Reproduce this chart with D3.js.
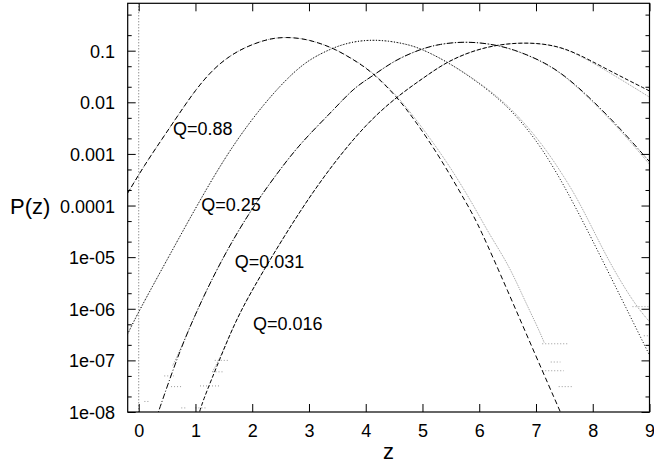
<!DOCTYPE html>
<html>
<head>
<meta charset="utf-8">
<script src="https://cdn.jsdelivr.net/npm/d3@7"></script>
<style>
  html, body { margin: 0; padding: 0; background: #fff; }
  svg { display: block; }
  text { font-family: Arial, "Liberation Sans", Helvetica, sans-serif; fill: #000; }
</style>
</head>
<body>
<svg id="chart" width="654" height="466"></svg>
<script>
// ---------- data ----------
const xTickValues = [0, 1, 2, 3, 4, 5, 6, 7, 8, 9];
const yTickValues = [1e-1, 1e-2, 1e-3, 1e-4, 1e-5, 1e-6, 1e-7, 1e-8];
const yTickLabels = ["0.1", "0.01", "0.001", "0.0001", "1e-05", "1e-06", "1e-07", "1e-08"];
const yMinorTicks = [5e-1, 2e-1, 5e-2, 2e-2, 5e-3, 2e-3, 5e-4, 2e-4, 5e-5, 2e-5, 5e-6, 2e-6, 5e-7, 2e-7, 5e-8, 2e-8];

const curveLabels = ["Q=0.88", "Q=0.25", "Q=0.031", "Q=0.016"];

// theory curves [z, P(z)]
const theoryQ088 = [[-0.2,1.70e-4],[0.1,6.03e-4],[0.4,1.86e-3],[0.7,5.75e-3],[1.0,1.74e-2],[1.3,4.27e-2],[1.6,7.94e-2],[1.9,0.120],[2.2,0.158],[2.4,0.176],[2.6,0.182],[2.85,0.174],[3.1,0.151],[3.43,0.112],[3.75,7.08e-2],[4.1,3.98e-2],[4.55,1.29e-2],[4.9,3.98e-3],[5.3,8.91e-4],[5.8,1.0e-4],[6.0,3.98e-5],[6.5,2.24e-6],[7.0,1.20e-7],[7.45,8.91e-9]];
const theoryQ025 = [[-0.2,3.16e-7],[0.0,8.91e-7],[0.5,8.91e-6],[1.0,8.91e-5],[1.5,7.94e-4],[2.0,4.90e-3],[2.5,2.19e-2],[2.9,5.62e-2],[3.2,8.71e-2],[3.5,0.123],[3.8,0.151],[4.1,0.162],[4.4,0.155],[4.7,0.135],[4.96,0.112],[5.43,6.17e-2],[5.93,2.69e-2],[6.52,8.32e-3],[7.11,1.38e-3],[7.69,1.0e-4],[8.28,5.01e-6],[9.0,1.26e-7]];
const theoryQ031 = [[0.3,7.08e-9],[0.69,1.26e-7],[1.0,7.94e-7],[1.3,3.98e-6],[1.65,2.09e-5],[2.03,1.0e-4],[2.45,4.37e-4],[2.85,1.62e-3],[3.43,7.08e-3],[3.8,1.95e-2],[4.11,3.16e-2],[4.5,6.46e-2],[4.96,0.107],[5.3,0.135],[5.75,0.151],[6.2,0.136],[6.6,0.107],[7.11,6.31e-2],[7.5,3.39e-2],[7.99,1.12e-2],[8.52,2.82e-3],[9.0,7.08e-4]];
const theoryQ016 = [[1.05,7.94e-9],[1.1,1.38e-8],[1.457,1.26e-7],[1.75,7.59e-7],[2.22,6.10e-6],[2.85,8.22e-5],[3.43,6.61e-4],[4.02,3.94e-3],[4.55,1.29e-2],[5.0,2.88e-2],[5.43,6.17e-2],[5.93,0.104],[6.4,0.135],[6.87,0.144],[7.3,0.129],[7.69,9.33e-2],[8.28,4.17e-2],[9.0,1.66e-2]];

// simulation data [z, P(z)]
const dataQ088 = [[-0.2,1.70e-4],[0.1,6.03e-4],[0.4,1.86e-3],[0.7,5.75e-3],[1.0,1.74e-2],[1.3,4.27e-2],[1.6,7.94e-2],[1.9,0.120],[2.2,0.158],[2.4,0.176],[2.6,0.182],[2.85,0.174],[3.1,0.151],[3.43,0.112],[3.75,7.20e-2],[4.1,4.07e-2],[4.55,1.35e-2],[4.9,4.47e-3],[5.3,1.12e-3],[5.6,3.55e-4],[5.9,1.0e-4],[6.2,2.51e-5],[6.52,7.08e-6],[6.81,1.38e-6],[7.04,4.17e-7],[7.15,2.14e-7]];
const dataQ025 = [[-0.2,3.16e-7],[0.0,8.91e-7],[0.5,8.91e-6],[1.0,8.91e-5],[1.5,7.94e-4],[2.0,4.90e-3],[2.5,2.19e-2],[2.9,5.62e-2],[3.2,8.71e-2],[3.5,0.123],[3.8,0.151],[4.1,0.162],[4.4,0.155],[4.7,0.135],[4.96,0.112],[5.43,6.17e-2],[5.93,2.75e-2],[6.52,8.91e-3],[7.11,1.58e-3],[7.5,3.55e-4],[7.8,1.0e-4],[8.28,8.13e-6],[8.75,1.17e-6],[9.0,5.62e-7]];
const dataQ031 = [[0.6,8.0e-8],[0.69,1.26e-7],[1.0,7.94e-7],[1.3,3.98e-6],[1.65,2.09e-5],[2.03,1.0e-4],[2.45,4.37e-4],[2.85,1.62e-3],[3.43,7.08e-3],[3.8,1.95e-2],[4.11,3.16e-2],[4.5,6.46e-2],[4.96,0.107],[5.3,0.135],[5.75,0.151],[6.2,0.136],[6.6,0.107],[7.11,6.17e-2],[7.5,3.31e-2],[7.99,1.07e-2],[8.52,2.63e-3],[9.0,6.31e-4]];
const dataQ016 = [[1.3,6.0e-8],[1.457,1.26e-7],[1.75,7.59e-7],[2.22,6.10e-6],[2.85,8.22e-5],[3.43,6.61e-4],[4.02,3.94e-3],[4.55,1.29e-2],[5.0,2.88e-2],[5.43,6.17e-2],[5.93,0.104],[6.4,0.135],[6.87,0.144],[7.3,0.128],[7.69,9.12e-2],[8.28,3.89e-2],[9.0,1.26e-2]];

// sparse low-count bins of the simulation data [z0, z1, P]
const noiseQ088 = [[7.11,7.57,2.1e-7],[7.26,7.43,9.3e-8],[7.11,7.49,6.3e-8],[7.40,7.66,3.1e-8]];
const noiseQ025 = [[8.70,8.98,1.1e-6],[8.90,9.0,3.0e-7]];
const noiseQ031 = [[0.10,0.18,1.6e-8],[0.57,0.75,3.1e-8],[0.75,0.85,1.2e-8],[0.45,0.62,5.0e-8]];
const noiseQ016 = [[1.08,1.43,3.2e-8],[1.34,1.57,1.0e-7],[1.30,1.50,6.0e-8],[1.0,1.2,1.2e-8]];

// ---------- layout ----------
const svg = d3.select("#chart");
const L = 127.7, R = 649.5, T = 3.3, B = 412;
const x = d3.scaleLinear().domain([-0.194, 9]).range([L, R]);
const y = d3.scaleLog().domain([1e-8, Math.pow(10, -0.082)]).range([B, T]);

svg.append("defs").append("clipPath").attr("id", "plotclip")
  .append("rect").attr("x", L).attr("y", T).attr("width", R - L).attr("height", B - T);

const plot = svg.append("g").attr("clip-path", "url(#plotclip)");

// zero axis
plot.append("line")
  .attr("x1", x(0)).attr("x2", x(0)).attr("y1", T).attr("y2", B)
  .attr("stroke", "#666").attr("stroke-width", 1).attr("stroke-dasharray", "1,2");

const line = d3.line().x(d => x(d[0])).y(d => y(d[1])).curve(d3.curveBasis);

const dataSets = [dataQ088, dataQ025, dataQ031, dataQ016];
const noiseSets = [noiseQ088, noiseQ025, noiseQ031, noiseQ016];
const theorySets = [theoryQ088, theoryQ025, theoryQ031, theoryQ016];
const theoryDash = ["5,3", "1,2", "6,2,1,2", "4,2"];

dataSets.forEach(ds => {
  plot.append("path").attr("d", line(ds))
    .attr("fill", "none").attr("stroke", "#999").attr("stroke-width", 1)
    .attr("stroke-dasharray", "1,1");
});
noiseSets.forEach(ns => {
  plot.selectAll(null).data(ns).enter().append("line")
    .attr("x1", d => x(d[0])).attr("x2", d => x(d[1]))
    .attr("y1", d => y(d[2])).attr("y2", d => y(d[2]))
    .attr("stroke", "#999").attr("stroke-width", 1).attr("stroke-dasharray", "1,2");
});
theorySets.forEach((ts, i) => {
  plot.append("path").attr("d", line(ts))
    .attr("fill", "none").attr("stroke", "#000").attr("stroke-width", 1)
    .attr("stroke-dasharray", theoryDash[i]);
});

// ---------- axes ----------
const fmtY = v => yTickLabels[yTickValues.findIndex(t => Math.abs(Math.log10(t) - Math.log10(v)) < 1e-6)];

const gx = svg.append("g").attr("transform", `translate(0,${B})`)
  .call(d3.axisBottom(x).tickValues(xTickValues).tickFormat(d3.format("d")).tickSizeInner(-8).tickSizeOuter(0).tickPadding(12));
const gxTop = svg.append("g").attr("transform", `translate(0,${T})`)
  .call(d3.axisTop(x).tickValues(xTickValues).tickFormat("").tickSizeInner(-8).tickSizeOuter(0));
const gy = svg.append("g").attr("transform", `translate(${L},0)`)
  .call(d3.axisLeft(y).tickValues(yTickValues).tickFormat(fmtY).tickSizeInner(-8).tickSizeOuter(0).tickPadding(12.7));
const gyMinor = svg.append("g").attr("transform", `translate(${L},0)`)
  .call(d3.axisLeft(y).tickValues(yMinorTicks).tickFormat("").tickSizeInner(-4).tickSizeOuter(0));
const gyR = svg.append("g").attr("transform", `translate(${R},0)`)
  .call(d3.axisRight(y).tickValues(yTickValues).tickFormat("").tickSizeInner(-8).tickSizeOuter(0));
const gyRMinor = svg.append("g").attr("transform", `translate(${R},0)`)
  .call(d3.axisRight(y).tickValues(yMinorTicks).tickFormat("").tickSizeInner(-4).tickSizeOuter(0));

[gx, gxTop, gy, gyMinor, gyR, gyRMinor].forEach(g => {
  g.select(".domain").remove();
  g.selectAll(".tick line").attr("stroke", "#000").attr("stroke-width", 1);
  g.selectAll("text").attr("font-size", 18).attr("fill", "#000")
    .style("font-family", "Arial, 'Liberation Sans', Helvetica, sans-serif");
});
gy.selectAll("text").attr("dy", "0.36em");

// frame
svg.append("rect").attr("x", L).attr("y", T).attr("width", R - L).attr("height", B - T)
  .attr("fill", "none").attr("stroke", "#000").attr("stroke-width", 1.2);

// axis titles
svg.append("text").attr("x", 10).attr("y", 214).attr("font-size", 22).text("P(z)");
svg.append("text").attr("x", (L + R) / 2).attr("y", 459).attr("font-size", 22)
  .attr("text-anchor", "middle").text("z");

// curve labels
const labelPos = [[173, 135], [201.3, 211], [234.7, 268], [253, 329.6]];
curveLabels.forEach((t, i) => {
  svg.append("text").attr("x", labelPos[i][0]).attr("y", labelPos[i][1])
    .attr("font-size", 18).text(t);
});
</script>
</body>
</html>
